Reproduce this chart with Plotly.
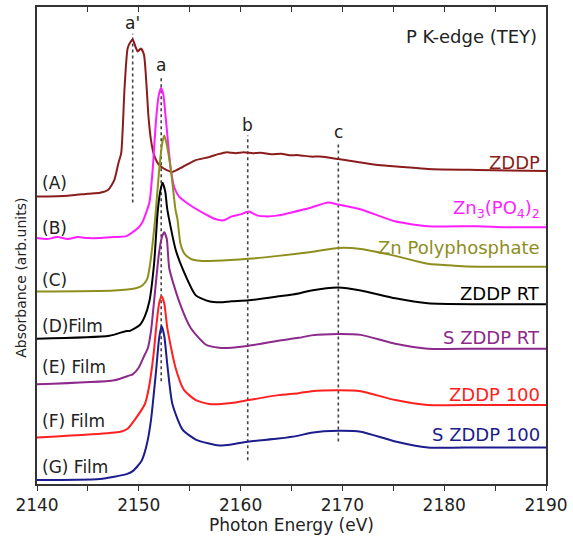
import plotly.graph_objects as go

# ---------------- data (y in arbitrary absorbance units, offset stacked) -------------
zddp_e = [2140.0, 2143.0, 2145.0, 2146.2, 2147.0, 2147.6, 2148.0, 2148.27, 2148.6, 2148.9, 2149.15, 2149.4,
          2149.7, 2149.9, 2150.2, 2150.5, 2150.75, 2150.95, 2151.2, 2151.5, 2152.0, 2152.7, 2153.3, 2154.3,
          2155.6, 2156.9, 2157.8, 2158.65, 2159.5, 2160.3, 2161.2, 2162.0, 2163.0, 2164.0, 2164.8, 2165.7,
          2166.9, 2167.8, 2169.6, 2171.5, 2173.5, 2176.0, 2178.4, 2183.3, 2190.0]
zddp_a = [2.91, 2.92, 2.94, 2.95, 2.98, 3.08, 3.25, 3.35, 4.01, 4.41, 4.47, 4.50,
          4.42, 4.38, 4.41, 4.35, 4.05, 3.72, 3.48, 3.33, 3.23, 3.18, 3.16, 3.21,
          3.28, 3.31, 3.34, 3.36, 3.35, 3.36, 3.35, 3.355, 3.34, 3.345, 3.33, 3.33,
          3.315, 3.315, 3.29, 3.26, 3.23, 3.21, 3.19, 3.18, 3.17]

znpo_e = [2140.0, 2141.0, 2142.0, 2143.0, 2144.0, 2145.0, 2146.15, 2147.5, 2148.8, 2149.4, 2150.0, 2150.35,
          2151.04, 2151.36, 2151.69, 2151.95, 2152.18, 2152.4, 2152.67, 2153.15, 2153.5, 2153.96, 2154.94,
          2156.57, 2157.58, 2158.3, 2159.14, 2160.0, 2160.8, 2161.6, 2162.46, 2163.73, 2165.0, 2166.95,
          2168.6, 2169.6, 2171.84, 2175.16, 2178.38, 2183.26, 2186.0, 2190.0]
znpo_a = [2.49, 2.48, 2.50, 2.48, 2.50, 2.49, 2.49, 2.50, 2.51, 2.55, 2.60, 2.65,
          2.85, 3.18, 3.68, 3.93, 4.01, 3.95, 3.68, 3.18, 3.00, 2.91, 2.83,
          2.73, 2.68, 2.67, 2.71, 2.73, 2.76, 2.72, 2.71, 2.72, 2.75, 2.80,
          2.85, 2.83, 2.78, 2.66, 2.61, 2.61, 2.60, 2.60]

poly_e = [2140.0, 2147.6, 2149.6, 2150.35, 2150.84, 2151.04, 2151.3, 2151.6, 2152.0, 2152.3, 2152.5, 2152.7,
          2153.15, 2153.6, 2153.8, 2154.1, 2154.5, 2155.1, 2156.0, 2157.5, 2160.8, 2163.7, 2166.95, 2169.6,
          2171.8, 2175.2, 2178.4, 2181.0, 2183.3, 2190.0]
poly_a = [1.95, 1.96, 1.98, 2.01, 2.08, 2.18, 2.38, 2.68, 3.18, 3.45, 3.53, 3.46,
          3.18, 2.78, 2.68, 2.43, 2.33, 2.28, 2.26, 2.26, 2.28, 2.31, 2.35, 2.39,
          2.38, 2.31, 2.23, 2.21, 2.20, 2.20]

zrt_e = [2140.0, 2147.1, 2148.8, 2149.1, 2150.1, 2150.6, 2151.04, 2151.5, 2151.85, 2152.1, 2152.33, 2152.6,
         2152.8, 2153.6, 2154.3, 2155.6, 2156.9, 2158.0, 2159.1, 2160.8, 2163.7, 2165.7, 2166.95, 2169.6,
         2171.8, 2175.2, 2178.4, 2183.3, 2190.0]
zrt_a = [1.47, 1.50, 1.55, 1.55, 1.61, 1.70, 1.85, 2.23, 2.75, 2.96, 3.05, 2.96,
         2.78, 2.38, 2.18, 1.91, 1.85, 1.84, 1.85, 1.86, 1.90, 1.93, 1.96, 1.99,
         1.96, 1.88, 1.83, 1.82, 1.82]

szrt_e = [2140.0, 2147.6, 2149.1, 2149.4, 2150.0, 2150.45, 2150.9, 2151.2, 2151.5, 2152.0, 2152.3, 2152.5,
          2152.75, 2153.0, 2153.96, 2155.1, 2156.6, 2157.9, 2159.1, 2160.8, 2163.7, 2165.7, 2166.95, 2169.6,
          2171.8, 2175.2, 2178.4, 2183.3, 2190.0]
szrt_a = [1.01, 1.05, 1.10, 1.11, 1.18, 1.28, 1.38, 1.55, 1.85, 2.35, 2.51, 2.55,
          2.48, 2.18, 1.85, 1.58, 1.41, 1.38, 1.38, 1.40, 1.45, 1.48, 1.505, 1.52,
          1.51, 1.42, 1.37, 1.37, 1.37]

z100_e = [2140.0, 2145.0, 2148.2, 2148.9, 2149.6, 2150.6, 2151.0, 2151.33, 2151.52, 2151.7, 2152.0, 2152.24,
          2152.5, 2152.8, 2153.6, 2154.45, 2155.6, 2156.9, 2159.1, 2160.8, 2163.7, 2165.7, 2166.95, 2169.6,
          2171.8, 2175.2, 2178.4, 2183.3, 2190.0]
z100_a = [0.47, 0.50, 0.53, 0.56, 0.65, 0.81, 0.98, 1.21, 1.38, 1.58, 1.83, 1.90,
          1.83, 1.58, 1.18, 0.95, 0.85, 0.81, 0.82, 0.85, 0.90, 0.92, 0.94, 0.95,
          0.94, 0.85, 0.80, 0.80, 0.80]

sz100_e = [2140.0, 2146.15, 2148.8, 2149.4, 2150.25, 2150.55, 2150.85, 2151.2, 2151.7, 2152.0, 2152.24, 2152.5,
           2152.8, 2153.3, 2154.3, 2155.6, 2156.9, 2157.9, 2159.1, 2160.8, 2163.7, 2165.7, 2166.95, 2169.6,
           2171.8, 2175.2, 2178.4, 2183.3, 2190.0]
sz100_a = [0.04, 0.05, 0.10, 0.13, 0.23, 0.31, 0.43, 0.65, 1.15, 1.48, 1.60, 1.50,
           1.21, 0.81, 0.55, 0.45, 0.41, 0.39, 0.40, 0.43, 0.46, 0.49, 0.52, 0.54,
           0.53, 0.43, 0.37, 0.37, 0.37]

series_names = ["ZDDP", "Zn<sub>3</sub>(PO<sub>4</sub>)<sub>2</sub>", "Zn Polyphosphate", "ZDDP RT",
                "S ZDDP RT", "ZDDP 100", "S ZDDP 100"]
series_e = [zddp_e, znpo_e, poly_e, zrt_e, szrt_e, z100_e, sz100_e]
series_a = [zddp_a, znpo_a, poly_a, zrt_a, szrt_a, z100_a, sz100_a]
series_colors = ["#8B1C1C", "#FF1EFF", "#8E8E1E", "#000000", "#8B2A8B", "#FF2020", "#1C1C8C"]
name_label_y = [3.26, 2.78, 2.39, 1.93, 1.48, 0.91, 0.50]
left_labels = ["(A)", "(B)", "(C)", "(D)Film", "(E) Film", "(F) Film", "(G) Film"]
left_label_y = [3.05, 2.59, 2.07, 1.60, 1.18, 0.64, 0.17]

# feature markers (dotted lines)
feat_labels = ["a'", "a", "b", "c"]
feat_e = [2149.4, 2152.2, 2160.7, 2169.6]
feat_top = [4.56, 4.11, 3.53, 3.45]
feat_bottom = [2.85, 1.04, 0.24, 0.43]
feat_label_y = [4.67, 4.24, 3.64, 3.56]

x_range = [2140, 2190]
y_range = [0, 4.83]

FONT = "DejaVu Sans"
fig = go.Figure()

for e, top, bot in zip(feat_e, feat_top, feat_bottom):
    fig.add_trace(go.Scatter(x=[e, e], y=[bot, top], mode="lines",
                             line=dict(color="#444444", width=1.6, dash="dot"),
                             hoverinfo="skip", showlegend=False))

for e, a, c, n in zip(series_e, series_a, series_colors, series_names):
    fig.add_trace(go.Scatter(x=e, y=a, mode="lines", name=n,
                             line=dict(color=c, width=2, shape="spline", smoothing=0.6),
                             showlegend=False))

# dummy trace for top axis
fig.add_trace(go.Scatter(x=x_range, y=[0, 0], xaxis="x2", mode="lines", opacity=0,
                         line=dict(width=0), hoverinfo="skip", showlegend=False))

ann = []
for n, c, yv in zip(series_names, series_colors, name_label_y):
    ann.append(dict(x=2189.6, y=yv, xref="x", yref="y", text=n, showarrow=False,
                    xanchor="right", yanchor="middle", font=dict(family=FONT, size=18, color=c)))
for t, yv in zip(left_labels, left_label_y):
    ann.append(dict(x=2140.3, y=yv, xref="x", yref="y", text=t, showarrow=False,
                    xanchor="left", yanchor="middle", font=dict(family=FONT, size=17, color="#222222")))
for t, e, yv in zip(feat_labels, feat_e, feat_label_y):
    ann.append(dict(x=e, y=yv, xref="x", yref="y", text=t, showarrow=False,
                    xanchor="center", yanchor="middle", font=dict(family=FONT, size=17, color="#222222")))
ann.append(dict(x=2189.3, y=4.53, xref="x", yref="y", text="P K-edge (TEY)", showarrow=False,
                xanchor="right", yanchor="middle", font=dict(family=FONT, size=18, color="#222222")))
ann.append(dict(x=-0.033, y=2.09, xref="paper", yref="y", text="Absorbance (arb.units)", showarrow=False,
                textangle=-90, xanchor="center", yanchor="middle",
                font=dict(family=FONT, size=14, color="#222222")))

fig.update_layout(
    width=573, height=536,
    margin=dict(l=37, r=24, t=5, b=48),
    paper_bgcolor="white", plot_bgcolor="white",
    annotations=ann,
    xaxis=dict(range=x_range, showgrid=False, zeroline=False, showline=True, linecolor="#333333",
               linewidth=1.5, mirror=True, ticks="outside", ticklen=5, tickwidth=1.3, tickcolor="#333333",
               dtick=10, tick0=2140, minor=dict(ticks="outside", dtick=5, ticklen=5, tickwidth=1.3,
                                               tickcolor="#333333"),
               tickfont=dict(family=FONT, size=17, color="#222222"),
               title=dict(text="Photon Energy (eV)", font=dict(family=FONT, size=17, color="#222222"),
                          standoff=4)),
    xaxis2=dict(range=x_range, overlaying="x", side="top", anchor="y", showgrid=False, zeroline=False,
                showline=False, ticks="inside", ticklen=5, tickwidth=1.3, tickcolor="#333333",
                dtick=10, tick0=2140, showticklabels=False,
                minor=dict(ticks="inside", dtick=5, ticklen=5, tickwidth=1.3, tickcolor="#333333")),
    yaxis=dict(range=y_range, showgrid=False, zeroline=False, showline=True, linecolor="#333333",
               linewidth=1.5, mirror=True, ticks="", showticklabels=False),
)

fig.write_html("out.html", config={"displayModeBar": False},
               post_script="document.body.style.margin='0';document.body.style.overflow='hidden';")
